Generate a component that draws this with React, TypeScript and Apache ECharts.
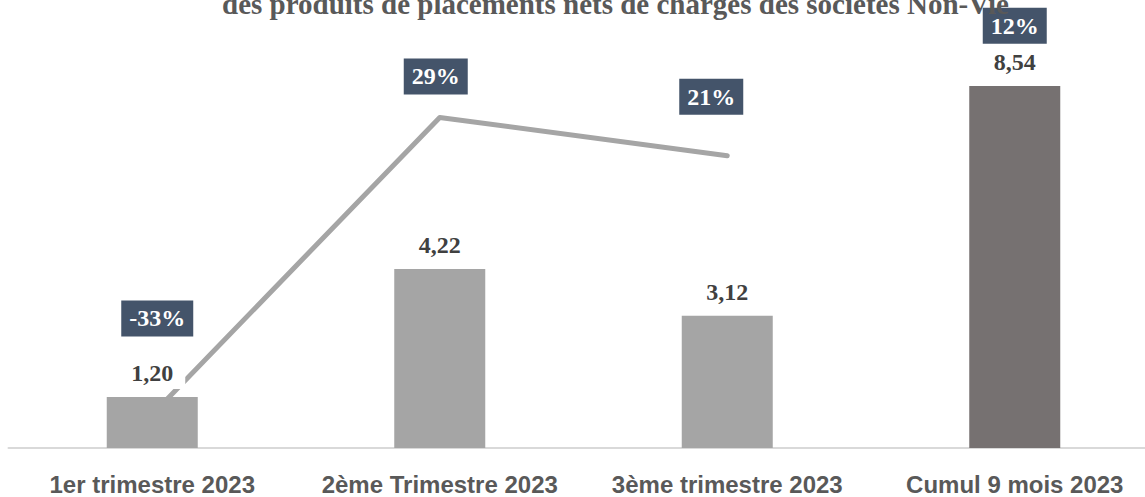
import React, { useEffect, useRef } from "react";
import * as echarts from "echarts";

const titleText = "des produits de placements nets de charges des sociétés Non-Vie";
const categories = ["1er trimestre 2023", "2ème Trimestre 2023", "3ème trimestre 2023", "Cumul 9 mois 2023"];
const amounts = [1.2, 4.22, 3.12, 8.54];
const growthLine = [-33, 29, 21, "-"];
const growthLabels = [-33, 29, 21, 12];

const SERIF = "'Liberation Serif', 'Times New Roman', serif";
const SANS = "'Liberation Sans', Arial, sans-serif";

export default function App() {
  const ref = useRef<HTMLDivElement>(null);

  useEffect(() => {
    if (!ref.current) return;
    const chart = echarts.init(ref.current, undefined, { renderer: "svg" });

    const barColors = ["#A5A5A5", "#A5A5A5", "#A5A5A5", "#767171"];
    const pctOffsets = [
      [5, -96],
      [-4, -41],
      [-16, -59],
      [0, -173],
    ];

    const option: any = {
      animation: false,
      backgroundColor: "#ffffff",
      title: {
        text: titleText,
        left: 217,
        top: -16,
        textStyle: {
          fontFamily: SERIF,
          fontSize: 29,
          fontWeight: "bold",
          color: "#595959",
        },
      },
      grid: { left: 8.5, right: 1.5, top: 24, bottom: 49, containLabel: false },
      xAxis: {
        type: "category",
        data: categories,
        axisLine: { show: true, lineStyle: { color: "#D9D9D9", width: 2 } },
        axisTick: { show: false },
        axisLabel: {
          margin: 24,
          fontFamily: SANS,
          fontSize: 24,
          fontWeight: "bold",
          color: "#595959",
          interval: 0,
        },
      },
      yAxis: [
        { type: "value", min: 0, max: 10, show: false, splitLine: { show: false } },
        { type: "value", min: -40, max: 48.5, show: false, splitLine: { show: false } },
      ],
      series: [
        {
          type: "line",
          yAxisIndex: 1,
          z: 1,
          data: growthLine,
          symbol: "none",
          lineStyle: { color: "#A5A5A5", width: 5, cap: "round", join: "round" },
          silent: true,
        },
        {
          type: "bar",
          yAxisIndex: 0,
          z: 2,
          barWidth: 91,
          data: amounts.map((v, i) => ({ value: v, itemStyle: { color: barColors[i] } })),
          label: {
            show: true,
            position: "top",
            distance: 8,
            formatter: (p: any) => p.value.toFixed(2).replace(".", ","),
            fontFamily: SERIF,
            fontSize: 24,
            fontWeight: "bold",
            color: "#404040",
            backgroundColor: "#ffffff",
            padding: [2, 12, 4, 12],
            lineHeight: 24,
          },
        },
        {
          type: "scatter",
          yAxisIndex: 1,
          z: 5,
          symbolSize: 0,
          itemStyle: { opacity: 1 },
          data: growthLabels.map((v, i) => ({
            value: v,
            label: { offset: pctOffsets[i] },
          })),
          label: {
            show: true,
            position: "inside",
            formatter: (p: any) => `${p.value}%`,
            fontFamily: SERIF,
            fontSize: 24,
            fontWeight: "bold",
            color: "#ffffff",
            backgroundColor: "#44546A",
            padding: [6, 8, 6, 8],
            lineHeight: 24,
            opacity: 1,
          },
          silent: true,
        },
      ],
    };

    chart.setOption(option);
    return () => chart.dispose();
  }, []);

  return (
    <div
      style={{ position: "absolute", left: 0, top: 0, width: 1145, height: 497, overflow: "hidden", background: "#fff" }}
    >
      <div ref={ref} style={{ width: 1160, height: 497 }} />
    </div>
  );
}
